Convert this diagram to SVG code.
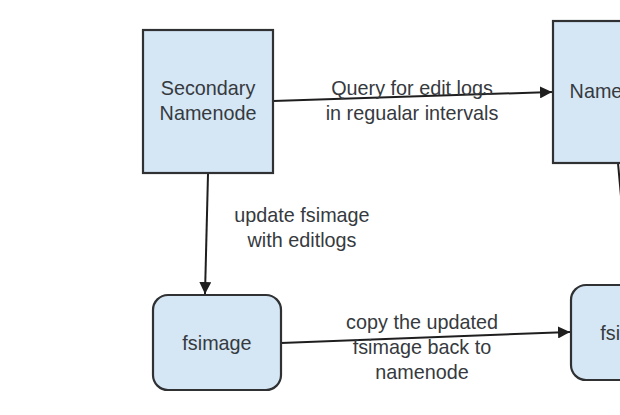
<svg xmlns="http://www.w3.org/2000/svg" width="620" height="415" viewBox="0 0 620 415">
<defs>
<style>
.box{fill:#d5e6f5;stroke:#2f3133;stroke-width:2.2}
.t{font-family:"Liberation Sans",Arial,sans-serif;font-size:19.8px;fill:#363a3e;text-anchor:middle}
.c{stroke:#1e1e1e;stroke-width:2;fill:none}
</style>
<marker id="ah" viewBox="0 0 10 10" refX="10" refY="5" markerWidth="6" markerHeight="6" markerUnits="strokeWidth" orient="auto">
<path d="M0,0 L10,5 L0,10 z" fill="#1e1e1e"/>
</marker>
</defs>
<rect width="620" height="415" fill="#ffffff"/>
<g id="connectors">
<line class="c" x1="273" y1="101" x2="552" y2="92" marker-end="url(#ah)"/>
<line class="c" x1="208" y1="174" x2="205" y2="294" marker-end="url(#ah)"/>
<line class="c" x1="281" y1="343" x2="570" y2="332" marker-end="url(#ah)"/>
<line class="c" x1="618" y1="163" x2="629" y2="285"/>
</g>
<g id="secondary-namenode">
<rect class="box" x="143" y="30" width="130" height="143"/>
<text class="t" x="208" y="95">Secondary</text>
<text class="t" x="208" y="120">Namenode</text>
</g>
<g id="namenode">
<rect class="box" x="553" y="21" width="130" height="142"/>
<text class="t" x="618" y="98">Namenode</text>
</g>
<g id="fsimage-secondary">
<rect class="box" x="153" y="295" width="128" height="95" rx="15"/>
<text class="t" x="217" y="350">fsimage</text>
</g>
<g id="fsimage-namenode">
<rect class="box" x="571" y="285" width="128" height="95" rx="15"/>
<text class="t" x="635" y="340">fsimage</text>
</g>
<g id="labels">
<text class="t" x="412" y="95">Query for edit logs</text>
<text class="t" x="412" y="120">in regualar intervals</text>
<text class="t" x="302" y="222">update fsimage</text>
<text class="t" x="302" y="247">with editlogs</text>
<text class="t" x="422" y="329">copy the updated</text>
<text class="t" x="422" y="354">fsimage back to</text>
<text class="t" x="422" y="379">namenode</text>
</g>
</svg>
